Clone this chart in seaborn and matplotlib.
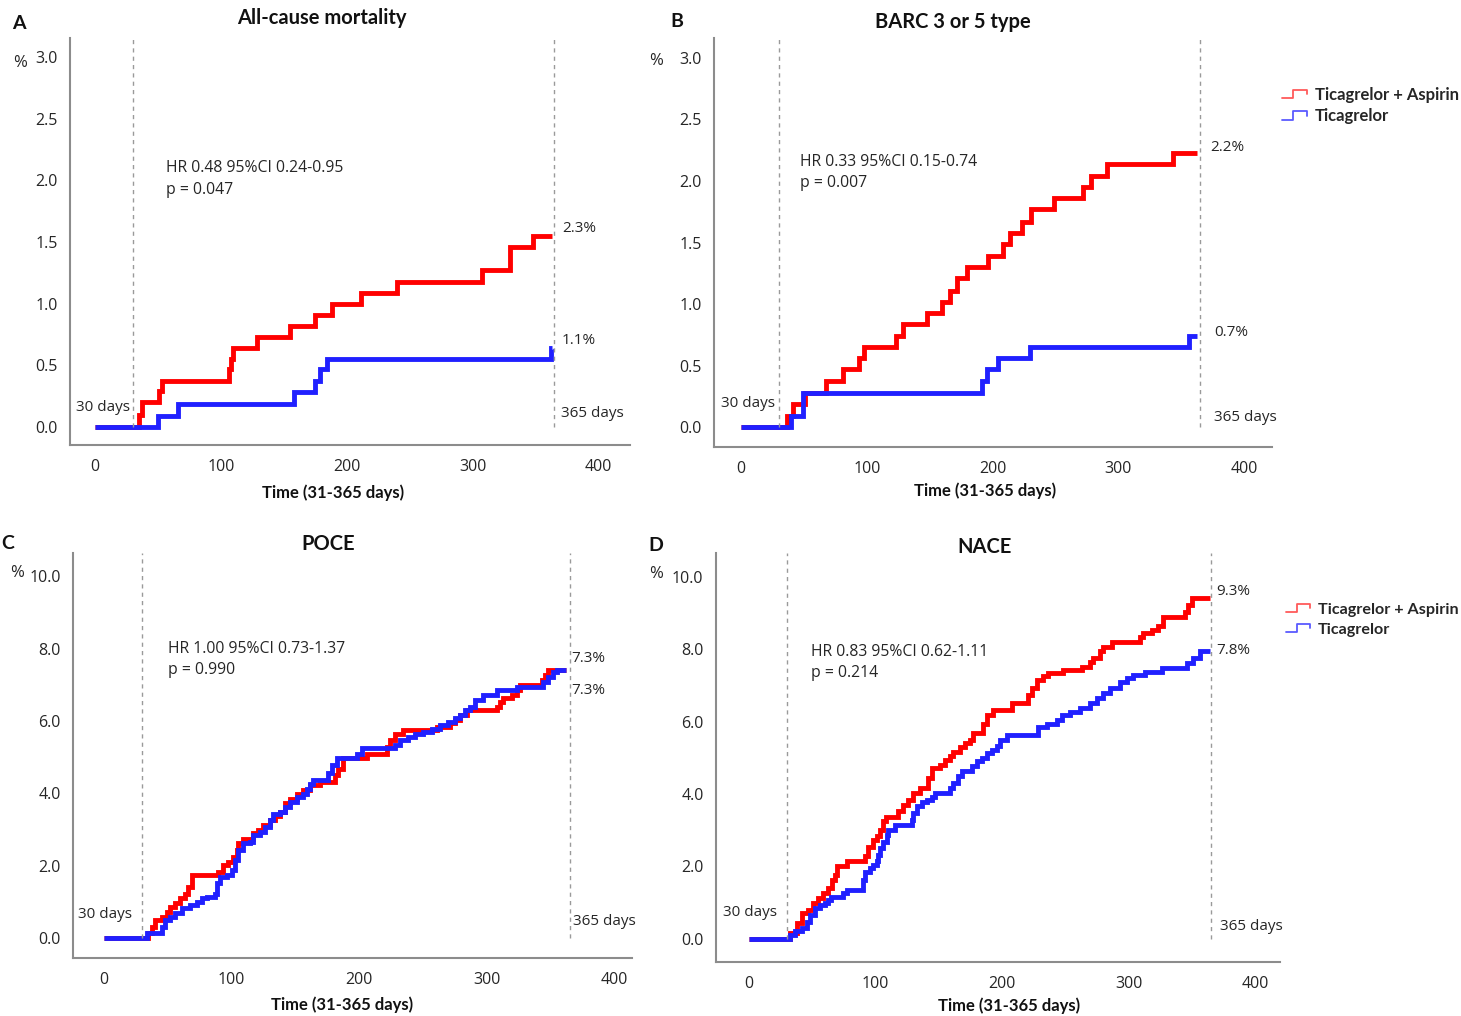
import pandas as pd
import matplotlib
matplotlib.use("Agg")
import matplotlib.pyplot as plt
from matplotlib.lines import Line2D
from matplotlib.legend_handler import HandlerBase
import seaborn as sns

# -------------------
# Data
# -------------------
ARM_A = "Ticagrelor + Aspirin"
ARM_B = "Ticagrelor"

# A - All-cause mortality
a_red_day = [0, 35, 37, 51, 53, 106, 108, 109.5, 128.5, 155, 175, 188, 211, 240, 307.5, 330, 348, 363]
a_red_pct = [0, 0.10, 0.20, 0.29, 0.37, 0.47, 0.55, 0.64, 0.73, 0.82, 0.91, 1.00, 1.09, 1.18, 1.27, 1.46, 1.55, 1.55]
a_blue_day = [0, 50, 66, 158, 175, 179, 184, 362, 363]
a_blue_pct = [0, 0.09, 0.19, 0.28, 0.37, 0.47, 0.55, 0.64, 0.64]

# B - BARC 3 or 5 type
b_red_day = [0, 36.6, 41.5, 51, 67.4, 81, 94, 97.4, 123, 129, 147.5, 160, 166, 172, 179.6,
             196, 208, 214, 223.6, 230.6, 249, 271.7, 277.8, 291, 343.6, 362.5]
b_red_pct = [0, 0.09, 0.19, 0.28, 0.38, 0.47, 0.56, 0.65, 0.74, 0.84, 0.93, 1.02, 1.11, 1.21, 1.30,
             1.39, 1.49, 1.58, 1.67, 1.77, 1.86, 1.95, 2.04, 2.14, 2.23, 2.23]
b_blue_day = [0, 39.5, 49, 191.5, 195.6, 204, 229.7, 356, 362.5]
b_blue_pct = [0, 0.09, 0.28, 0.38, 0.47, 0.56, 0.65, 0.74, 0.74]

# C - POCE
c_red_day = [0, 33, 35, 37.6, 40.2, 45.4, 49.3, 51.9, 55.8, 59.7, 63.7, 66.3, 68.9, 89.8, 93.6, 97.6,
             101.5, 104.1, 105.4, 109.3, 117.1, 121, 124.9, 130.2, 134.1, 138, 141.9, 145.8, 151.1,
             156.3, 161.5, 169.3, 181.1, 183.6, 187.6, 205.8, 221.5, 224.1, 228, 234.5, 260.6, 271,
             275, 278.9, 284.1, 307.6, 310.2, 312.8, 319.4, 323.3, 325.9, 342.8, 345.4, 348, 362]
c_red_pct = [0, 0, 0.13, 0.31, 0.49, 0.59, 0.73, 0.87, 0.96, 1.10, 1.23, 1.42, 1.74, 1.83, 2.02, 2.11,
             2.25, 2.43, 2.62, 2.75, 2.89, 2.98, 3.12, 3.26, 3.37, 3.49, 3.72, 3.85, 3.99,
             4.08, 4.23, 4.32, 4.50, 4.68, 4.97, 5.10, 5.28, 5.47, 5.65, 5.74, 5.83, 5.93,
             6.02, 6.16, 6.30, 6.39, 6.53, 6.62, 6.71, 6.85, 6.99, 7.12, 7.26, 7.42, 7.42]
c_blue_day = [0, 33.7, 45.4, 48, 51.9, 55.8, 61, 67.6, 72.8, 76.7, 80.6, 87.1, 88.5, 91, 96.3, 100.2,
              102.8, 105.4, 109.3, 114.5, 117.1, 122.4, 126.3, 130.2, 132.8, 138, 141.9, 145.8, 151.1,
              156.3, 158.9, 161.5, 164.1, 175.8, 178.5, 182.4, 198, 201.9, 228, 231.9, 238.4, 243.7,
              250.1, 256.7, 263.2, 269.7, 275, 278.9, 282.8, 286.7, 290.6, 297.1, 307.6, 323.3,
              344.1, 348, 352, 354.6, 362]
c_blue_pct = [0, 0.13, 0.31, 0.49, 0.59, 0.68, 0.82, 0.91, 1.01, 1.10, 1.14, 1.23, 1.51, 1.69, 1.74, 1.88,
              2.15, 2.43, 2.62, 2.66, 2.84, 2.94, 3.07, 3.26, 3.44, 3.49, 3.63, 3.76, 3.90,
              3.99, 4.13, 4.27, 4.36, 4.55, 4.78, 4.97, 5.10, 5.24, 5.33, 5.47, 5.56, 5.65,
              5.70, 5.79, 5.88, 5.97, 6.07, 6.16, 6.30, 6.39, 6.57, 6.71, 6.85, 6.94,
              7.08, 7.21, 7.35, 7.42, 7.42]

# D - NACE
d_red_day = [0, 32.4, 37.6, 41.6, 46.8, 50.8, 54.7, 58.7, 62.6, 65.3, 67.9, 69.7, 77.1, 91.6, 94.2,
             98.2, 100.9, 103.5, 106.1, 108, 118, 121.9, 125.9, 129.8, 135.1, 141.6, 144.3, 150.9,
             154.8, 158.8, 161.4, 166.7, 170.6, 174.6, 177.2, 185.1, 187.8, 193, 207.5, 220.7, 223.3,
             227.3, 232.5, 236.5, 248.3, 262.8, 269.4, 272, 277.3, 279.9, 286.5, 308.9, 311.6, 318.2,
             323.4, 327.4, 344.5, 347.1, 349.8, 364.2]
d_red_pct = [0, 0.15, 0.43, 0.71, 0.80, 0.99, 1.12, 1.26, 1.40, 1.63, 1.77, 2.02, 2.14, 2.28, 2.55,
             2.74, 2.83, 3.01, 3.25, 3.38, 3.52, 3.70, 3.84, 4.03, 4.16, 4.44, 4.71, 4.81,
             4.94, 5.04, 5.17, 5.31, 5.40, 5.49, 5.68, 5.95, 6.19, 6.33, 6.51, 6.74, 6.93,
             7.15, 7.25, 7.34, 7.43, 7.52, 7.66, 7.76, 7.94, 8.07, 8.21, 8.35, 8.45, 8.54,
             8.63, 8.90, 9.04, 9.22, 9.41, 9.41]
d_blue_day = [0, 32.4, 36.3, 41.6, 45.6, 48.2, 52.1, 56.1, 60, 62.6, 65, 74.5, 77.1, 90.3, 91.6, 95.6,
              98.2, 100.9, 102.2, 103.5, 106.1, 108.8, 110.1, 115.3, 128.5, 129.8, 132.5, 136.4,
              140.4, 144.3, 147, 158.8, 161.4, 165.4, 168, 175.9, 179.8, 183.8, 187.8, 191.7, 195.7,
              198.3, 203.5, 228.6, 235.2, 243.1, 247, 253.6, 261.5, 269.4, 274.7, 279.9, 285.2,
              293.1, 298.4, 303.6, 312.8, 326, 345.8, 351.1, 356.3, 364.2]
d_blue_pct = [0, 0.12, 0.21, 0.30, 0.48, 0.66, 0.85, 0.94, 0.99, 1.08, 1.17, 1.26, 1.36, 1.63, 1.86, 1.95,
              2.04, 2.14, 2.32, 2.50, 2.69, 2.87, 3.01, 3.15, 3.29, 3.47, 3.66, 3.79,
              3.84, 3.93, 4.03, 4.16, 4.30, 4.49, 4.63, 4.78, 4.91, 5.01, 5.14, 5.23, 5.33,
              5.50, 5.64, 5.86, 5.95, 6.05, 6.19, 6.28, 6.37, 6.51, 6.65, 6.79, 6.93,
              7.11, 7.20, 7.29, 7.38, 7.48, 7.61, 7.76, 7.94, 7.94]

x_ticks = [0, 100, 200, 300, 400]
y_ticks_small = [0.0, 0.5, 1.0, 1.5, 2.0, 2.5, 3.0]
y_ticks_large = [0.0, 2.0, 4.0, 6.0, 8.0, 10.0]

# -------------------
# Style
# -------------------
sns.set_style("white")
plt.rcParams['font.family'] = ['Open Sans', 'DejaVu Sans']

RED = "#ff0000"
BLUE = "#2020ff"
GRAY = "#8c8c8c"
TXT = "#262626"
BOLD_FONT = ['Lato', 'DejaVu Sans']

fig = plt.figure(figsize=(14.61, 10.16), dpi=100)


def make_df(rd, rv, bd, bv):
    r = pd.DataFrame({'day': rd, 'pct': rv, 'arm': ARM_A})
    b = pd.DataFrame({'day': bd, 'pct': bv, 'arm': ARM_B})
    return pd.concat([r, b], ignore_index=True)


# panel settings: rect, limits, ticks, title/letter/label placement, annotations
panels = [
    dict(rect=[0.0479, 0.5620, 0.3833, 0.4006], xlim=(-20, 425), ylim=(-0.146, 3.155),
         yticks=y_ticks_small, title="All-cause mortality", tpos=(0.45, 1.049),
         xlab=(0.47, -0.098), letter="A", lpos=(0.008, 0.977), pct=(0.009, 0.938),
         data=make_df(a_red_day, a_red_pct, a_blue_day, a_blue_pct),
         hr=(56, 2.01, "HR 0.48 95%CI 0.24-0.95\np = 0.047"),
         d30=(28, 0.16), d365=(370.5, 0.11), ends=[(371, 1.61, "2.3%"), (370.5, 0.70, "1.1%")]),
    dict(rect=[0.4887, 0.5600, 0.3819, 0.4026], xlim=(-21.5, 422), ylim=(-0.16, 3.16),
         yticks=y_ticks_small, title="BARC 3 or 5 type", tpos=(0.428, 1.039),
         xlab=(0.486, -0.087), letter="B", lpos=(0.459, 0.979), pct=(0.444, 0.940),
         data=make_df(b_red_day, b_red_pct, b_blue_day, b_blue_pct),
         hr=(47, 2.07, "HR 0.33 95%CI 0.15-0.74\np = 0.007"),
         d30=(27, 0.19), d365=(376, 0.08), ends=[(373, 2.27, "2.2%"), (376, 0.77, "0.7%")]),
    dict(rect=[0.0500, 0.0571, 0.3826, 0.3986], xlim=(-24, 413.5), ylim=(-0.55, 10.64),
         yticks=y_ticks_large, title="POCE", tpos=(0.456, 1.022),
         xlab=(0.481, -0.096), letter="C", lpos=(0.001, 0.465), pct=(0.007, 0.436),
         data=make_df(c_red_day, c_red_pct, c_blue_day, c_blue_pct),
         hr=(50.4, 7.69, "HR 1.00 95%CI 0.73-1.37\np = 0.990"),
         d30=(22, 0.64), d365=(367, 0.47), ends=[(366, 7.73, "7.3%"), (366, 6.85, "7.3%")]),
    dict(rect=[0.4901, 0.0531, 0.3860, 0.4026], xlim=(-26, 419.5), ylim=(-0.64, 10.66),
         yticks=y_ticks_large, title="NACE", tpos=(0.477, 1.015),
         xlab=(0.52, -0.086), letter="D", lpos=(0.444, 0.463), pct=(0.444, 0.435),
         data=make_df(d_red_day, d_red_pct, d_blue_day, d_blue_pct),
         hr=(49, 7.64, "HR 0.83 95%CI 0.62-1.11\np = 0.214"),
         d30=(22, 0.72), d365=(372, 0.33), ends=[(369, 9.59, "9.3%"), (369, 7.98, "7.8%")]),
]

for p in panels:
    ax = fig.add_axes(p['rect'])
    sns.lineplot(data=p['data'], x='day', y='pct', hue='arm', hue_order=[ARM_A, ARM_B],
                 palette={ARM_A: RED, ARM_B: BLUE}, estimator=None, sort=False,
                 drawstyle='steps-post', lw=3.5, legend=False, ax=ax)
    for ln in ax.lines:
        ln.set_marker('')
        ln.set_solid_capstyle('butt')
        ln.set_solid_joinstyle('miter')
    ax.set_xlim(*p['xlim'])
    ax.set_ylim(*p['ylim'])

    # reference lines at 30 and 365 days
    for xv in (30, 365):
        ax.vlines(xv, 0, p['ylim'][1], colors="#9a9a9a", linestyles=(0, (3, 3)), lw=1, clip_on=False)

    ax.set_xticks(x_ticks)
    ax.set_yticks(p['yticks'])
    ax.set_yticklabels([f"{v:.1f}" for v in p['yticks']])
    ax.tick_params(axis='both', length=0, labelsize=11.5, colors=TXT)
    ax.tick_params(axis='x', pad=10)
    ax.tick_params(axis='y', pad=9)

    sns.despine(ax=ax)
    for s in ('left', 'bottom'):
        ax.spines[s].set_color(GRAY)
        ax.spines[s].set_linewidth(1.5)

    ax.set_ylabel("")
    ax.set_xlabel("Time (31-365 days)", fontsize=12, fontweight='bold', family=BOLD_FONT, color="#111")
    ax.xaxis.set_label_coords(*p['xlab'])

    ax.text(*p['tpos'], p['title'], transform=ax.transAxes, ha='center', va='center',
            fontsize=14.5, fontweight='bold', family=BOLD_FONT, color="#111")
    fig.text(*p['lpos'], p['letter'], ha='left', va='center', fontsize=14, fontweight='bold',
             family=BOLD_FONT, color="#111")
    fig.text(*p['pct'], "%", ha='left', va='center', fontsize=12, color=TXT)

    hx, hy, htxt = p['hr']
    ax.text(hx, hy, htxt, ha='left', va='center', fontsize=11.3, color=TXT, linespacing=1.45)
    ax.text(*p['d30'], "30 days", ha='right', va='center', fontsize=11, color=TXT)
    ax.text(*p['d365'], "365 days", ha='left', va='center', fontsize=11, color=TXT, clip_on=False)
    for ex, ey, et in p['ends']:
        ax.text(ex, ey, et, ha='left', va='center', fontsize=11, color=TXT, clip_on=False)


# legend with little step-shaped handles
class StepHandler(HandlerBase):
    def create_artists(self, legend, orig_handle, xdescent, ydescent, width, height, fontsize, trans):
        x0, y0 = -xdescent, -ydescent
        xs = [x0, x0 + 0.45 * width, x0 + 0.45 * width, x0 + width, x0 + width]
        ys = [y0 + 0.15 * height, y0 + 0.15 * height, y0 + 0.85 * height, y0 + 0.85 * height, y0 + 0.5 * height]
        line = Line2D(xs, ys, color=orig_handle.get_color(), lw=1.3, transform=trans)
        return [line]


handles = [Line2D([], [], color="#ff5a5a"), Line2D([], [], color="#5a5aff")]
for anchor, size in [((0.8715, 0.923), 12), ((0.8745, 0.415), 11.6)]:
    fig.legend(handles, [ARM_A, ARM_B], loc='upper left', bbox_to_anchor=anchor,
               frameon=False, borderpad=0, handlelength=1.5, handletextpad=0.5,
               labelspacing=0.35, handler_map={Line2D: StepHandler()},
               prop={'family': BOLD_FONT, 'weight': 'bold', 'size': size})

fig.savefig("out.png", dpi=100)
